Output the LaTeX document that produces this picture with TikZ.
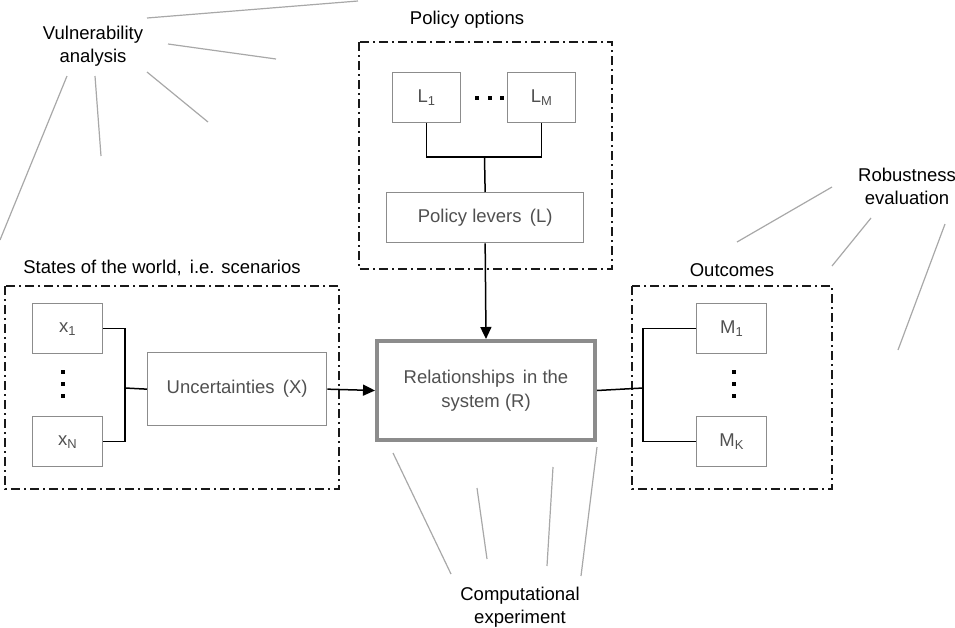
\documentclass[tikz,border=0pt]{standalone}
\usepackage{fontspec}
\setmainfont{Liberation Sans}
\usetikzlibrary{arrows.meta}
\definecolor{boxgray}{HTML}{8C8C8C}
\definecolor{labgray}{HTML}{505050}
\definecolor{anngray}{HTML}{A8A8A8}
\begin{document}
\begin{tikzpicture}[x=1pt,y=-1pt,
  lbl/.style={font=\fontsize{18.5}{23}\selectfont, text=black, align=center, inner sep=0pt},
  vbox/.style={draw=boxgray, line width=1.3pt, minimum width=#1, minimum height=50pt, inner sep=0pt,
     font=\fontsize{18.5}{24}\selectfont, text=labgray, anchor=north west},
  grp/.style={draw=black!90, line width=1.2pt, dash pattern=on 9pt off 4pt on 2pt off 4pt},
  conn/.style={draw=black, line width=1.5pt},
  arr/.style={conn, -{Triangle[length=12pt,width=11pt]}},
  ann/.style={draw=anngray, line width=1.2pt},
  dot/.style={fill=black, minimum size=4pt, inner sep=0pt}]
\useasboundingbox (0,0) rectangle (955,627);

% group frames
\draw[grp] (5,286) rectangle (339,489);
\draw[grp] (359,42) rectangle (612,269);
\draw[grp] (632,286) rectangle (832,489);

% titles
\node[lbl] (tstates) at (162,268) {States of the world,\, i.e. scenarios};
\node[lbl] (tpolicy) at (467,20) {Policy options};
\node[lbl] (tout) at (732,270) {Outcomes};
\node[lbl] (tvuln) at (93,46) {Vulnerability\\analysis};
\node[lbl] (trob) at (907,186) {Robustness\\evaluation};
\node[lbl] (tcomp) at (520,607) {Computational\\experiment};

% boxes: policy
\node[vbox=68pt] (L1) at (392,72) {L\textsubscript{1}};
\node[vbox=68pt] (LM) at (507,72) {L\textsubscript{M}};
\node[vbox=197pt] (PL) at (386,192) {Policy levers\, (L)};
% states
\node[vbox=70pt] (x1) at (32,303) {x\textsubscript{1}};
\node[vbox=70pt] (xN) at (32,416) {x\textsubscript{N}};
\node[vbox=179pt, minimum height=73pt] (UX) at (147,352) {Uncertainties\, (X)};
% outcomes
\node[vbox=70pt] (M1) at (696,303) {M\textsubscript{1}};
\node[vbox=70pt] (MK) at (696,416) {M\textsubscript{K}};
% relationships
\node[draw=boxgray, line width=4pt, minimum width=218pt, minimum height=99pt, inner sep=0pt,
  anchor=north west, font=\fontsize{18.5}{24}\selectfont, text=labgray, align=center]
  (R) at (375,339) {Relationships\, in the\\system (R)};

% dots
\node[dot] (hd1) at (477,98) {};
\node[dot] (hd2) at (489.5,98) {};
\node[dot] (hd3) at (502,98) {};
\node[dot] (vd1) at (63,372) {};
\node[dot] (vd2) at (63,384) {};
\node[dot] (vd3) at (63,396) {};
\node[dot] (wd1) at (734,372) {};
\node[dot] (wd2) at (734,384) {};
\node[dot] (wd3) at (734,396) {};

% connectors
\coordinate (pj) at (484.5,157);
\coordinate (sj) at (125,388);
\coordinate (oj) at (643,388);
\draw[conn] (L1.south) |- (pj) -| (LM.south);
\draw[conn] (pj) -- (PL.north);
\draw[arr] (PL.south) -- (R.north);
\draw[conn] (x1.east) -| (sj) |- (xN.east);
\draw[conn] (sj) -- (UX.west);
\draw[arr] (UX.east) -- (R.west);
\draw[conn] (R.east) -- (oj);
\draw[conn] (M1.west) -| (oj) |- (MK.west);

% annotation lines
\draw[ann] (147,18) -- (358,1);
\draw[ann] (168,44) -- (276,59);
\draw[ann] (147,72) -- (208,122);
\draw[ann] (95,76) -- (101,156);
\draw[ann] (67,76) -- (0,240);
\draw[ann] (832,187) -- (737,242);
\draw[ann] (871,218) -- (832,266);
\draw[ann] (945,224) -- (898,350);
\draw[ann] (393,453) -- (451,574);
\draw[ann] (477,488) -- (487,559);
\draw[ann] (553,467) -- (547,566);
\draw[ann] (597,447) -- (581,576);
\end{tikzpicture}
\end{document}
